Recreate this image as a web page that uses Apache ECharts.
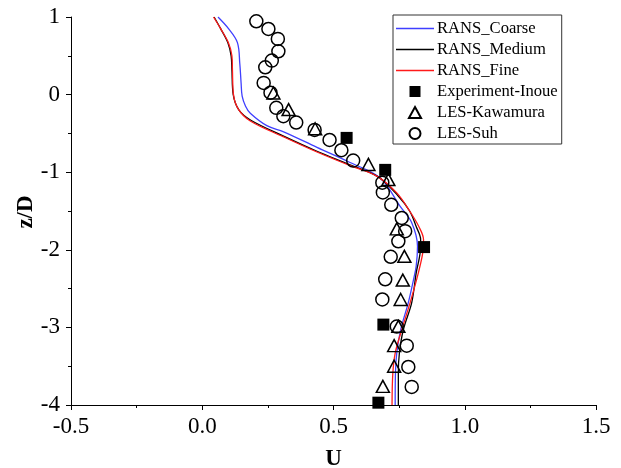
<!DOCTYPE html>
<html>
<head>
<meta charset="utf-8">
<script src="https://cdn.jsdelivr.net/npm/echarts@6/dist/echarts.min.js"></script>
<style>html,body{margin:0;padding:0;background:#fff;}#c{width:621px;height:468px;}</style>
</head>
<body>
<div id="c"></div>
<script>
// RANS profiles (U, z/D)
var coarseU = [0.060, 0.100, 0.134, 0.143, 0.148, 0.152, 0.165, 0.183, 0.246, 0.310, 0.437, 0.563, 0.678, 0.754, 0.798, 0.820, 0.815, 0.805, 0.785, 0.756, 0.741, 0.736, 0.735];
var coarseZ = [1.00, 0.85, 0.67, 0.40, 0.15, -0.02, -0.15, -0.24, -0.40, -0.48, -0.68, -0.875, -1.074, -1.44, -1.65, -1.955, -2.21, -2.38, -2.68, -3.03, -3.33, -3.59, -4.00];

var mediumU = [0.045, 0.070, 0.098, 0.110, 0.113, 0.118, 0.140, 0.185, 0.310, 0.437, 0.563, 0.670, 0.745, 0.790, 0.815, 0.832, 0.830, 0.815, 0.798, 0.766, 0.751, 0.747, 0.747];
var mediumZ = [1.00, 0.85, 0.666, 0.50, 0.32, 0.00, -0.20, -0.33, -0.535, -0.73, -0.905, -1.06, -1.30, -1.50, -1.70, -1.87, -2.04, -2.30, -2.68, -3.03, -3.33, -3.59, -4.00];

var fineU = [0.043, 0.070, 0.100, 0.113, 0.115, 0.119, 0.138, 0.183, 0.310, 0.437, 0.563, 0.665, 0.741, 0.790, 0.825, 0.843, 0.840, 0.823, 0.792, 0.760, 0.735, 0.726, 0.723];
var fineZ = [1.00, 0.85, 0.666, 0.50, 0.32, 0.00, -0.19, -0.34, -0.545, -0.74, -0.915, -1.05, -1.267, -1.50, -1.70, -1.87, -2.04, -2.30, -2.68, -3.03, -3.33, -3.59, -4.00];

// Experiment-Inoue
var expU = [0.550, 0.697, 0.845, 0.690, 0.671];
var expZ = [-0.558, -0.970, -1.965, -2.964, -3.970];

// LES-Kawamura
var kawU = [0.271, 0.329, 0.430, 0.633, 0.709, 0.741, 0.770, 0.764, 0.756, 0.747, 0.731, 0.731, 0.688];
var kawZ = [0.02, -0.193, -0.44, -0.90, -1.095, -1.73, -2.084, -2.39, -2.64, -2.986, -3.235, -3.50, -3.76];

// LES-Suh
var suhU = [0.206, 0.252, 0.288, 0.290, 0.265, 0.240, 0.234, 0.260, 0.282, 0.309, 0.358, 0.428, 0.485, 0.530, 0.575, 0.686, 0.688, 0.720, 0.760, 0.773, 0.747, 0.718, 0.697, 0.686, 0.741, 0.779, 0.785, 0.798];
var suhZ = [0.945, 0.846, 0.718, 0.558, 0.438, 0.352, 0.151, 0.025, -0.171, -0.278, -0.360, -0.455, -0.585, -0.717, -0.850, -1.135, -1.260, -1.420, -1.590, -1.760, -1.890, -2.090, -2.380, -2.640, -2.990, -3.235, -3.510, -3.767];

var xTicks = [-0.5, 0.0, 0.5, 1.0, 1.5];
var yTicks = [-4, -3, -2, -1, 0, 1];

function pairs(u, z) { return u.map(function (v, i) { return [v, z[i]]; }); }

var FONT = 'Liberation Serif';
var chart = echarts.init(document.getElementById('c'), null, { renderer: 'canvas' });

function lineSeries(name, u, z, color) {
  return {
    name: name, type: 'line', data: pairs(u, z), smooth: 0.35,
    symbol: 'none', showSymbol: false,
    lineStyle: { color: color, width: 1.3 },
    itemStyle: { color: color }, z: 2
  };
}
function hollow(name, u, z, symbol, size) {
  return {
    name: name, type: 'scatter', data: pairs(u, z), symbol: symbol, symbolSize: size,
    itemStyle: { color: 'rgba(255,255,255,0)', borderColor: '#000', borderWidth: 1.5, opacity: 1 }, z: 3
  };
}

var LINE_ICON = 'path://M0,0H38V1.4H0Z';
var SQUARE_ICON = 'path://M0,0H10V10H0Z';
var TRI_ICON = 'path://M5.5,0L11,10L0,10Z';
var CIRC_ICON = 'path://M0,5A5,5,0,1,1,10,5A5,5,0,1,1,0,5Z';

chart.setOption({
  animation: false,
  backgroundColor: '#fff',
  grid: { left: 71, right: 25, top: 17, bottom: 63, containLabel: false, outerBoundsMode: 'none' },
  graphic: [{
    type: 'text', x: 26, y: 212, rotation: Math.PI / 2,
    style: { text: 'z/D', fontFamily: FONT, fontSize: 23, fontWeight: 'bold', fill: '#000',
      align: 'center', verticalAlign: 'middle' }
  }],
  legend: {
    left: 393, top: 15, orient: 'vertical',
    itemWidth: 38, itemHeight: 11, itemGap: 4,
    symbolKeepAspect: true,
    padding: [5, 4, 2, 3],
    borderColor: '#333', borderWidth: 1,
    textStyle: { fontFamily: FONT, fontSize: 16.6, color: '#000', padding: [0, 0, 0, -2] },
    data: [
      { name: 'RANS_Coarse', icon: LINE_ICON },
      { name: 'RANS_Medium', icon: LINE_ICON },
      { name: 'RANS_Fine', icon: LINE_ICON },
      { name: 'Experiment-Inoue', icon: SQUARE_ICON },
      { name: 'LES-Kawamura', icon: TRI_ICON },
      { name: 'LES-Suh', icon: CIRC_ICON }
    ]
  },
  xAxis: {
    type: 'value', min: xTicks[0], max: xTicks[xTicks.length - 1], interval: 0.5,
    name: 'U', nameLocation: 'middle', nameGap: 43,
    nameTextStyle: { fontFamily: FONT, fontSize: 23, fontWeight: 'bold', color: '#000' },
    axisLine: { onZero: false, lineStyle: { color: '#000', width: 1 } },
    axisTick: { show: true, inside: false, length: 5, lineStyle: { color: '#000' } },
    minorTick: { show: true, splitNumber: 2, length: 3, lineStyle: { color: '#000' } },
    splitLine: { show: false },
    axisLabel: { fontFamily: FONT, fontSize: 23, color: '#000', margin: 10,
      formatter: function (v) { return v.toFixed(1); } }
  },
  yAxis: {
    type: 'value', min: yTicks[0], max: yTicks[yTicks.length - 1], interval: 1,
    axisLine: { show: true, onZero: false, lineStyle: { color: '#000', width: 1 } },
    axisTick: { show: true, inside: false, length: 5, lineStyle: { color: '#000' } },
    minorTick: { show: true, splitNumber: 2, length: 3, lineStyle: { color: '#000' } },
    splitLine: { show: false },
    axisLabel: { fontFamily: FONT, fontSize: 23, color: '#000', margin: 11 }
  },
  series: [
    lineSeries('RANS_Coarse', coarseU, coarseZ, '#3f3fff'),
    lineSeries('RANS_Medium', mediumU, mediumZ, '#000000'),
    lineSeries('RANS_Fine', fineU, fineZ, '#ff1a1a'),
    { name: 'Experiment-Inoue', type: 'scatter', data: pairs(expU, expZ), symbol: 'rect', symbolSize: 12,
      itemStyle: { color: '#000', opacity: 1 }, z: 3 },
    hollow('LES-Kawamura', kawU, kawZ, 'triangle', [13, 12]),
    hollow('LES-Suh', suhU, suhZ, 'circle', 13)
  ]
});
</script>
</body>
</html>
